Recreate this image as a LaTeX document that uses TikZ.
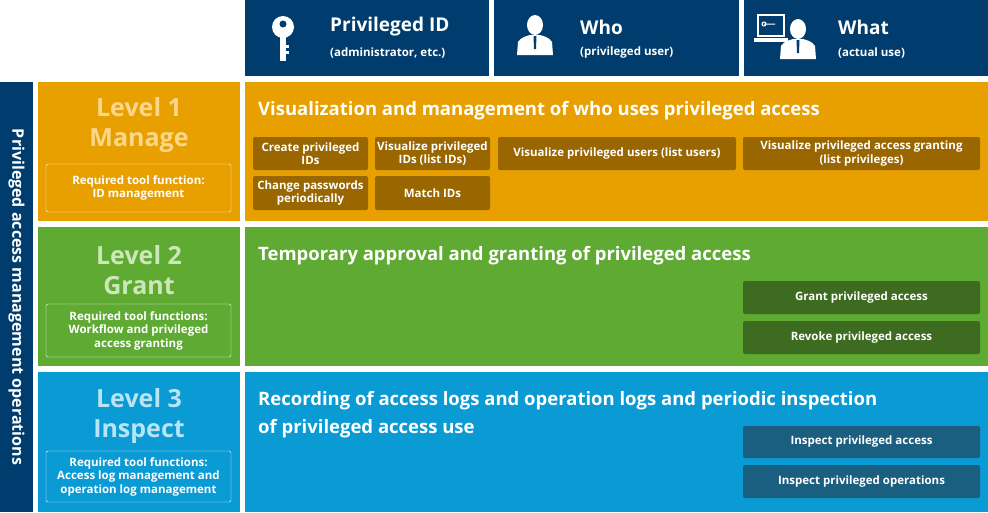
\documentclass[tikz,border=0pt]{standalone}
\usepackage{fontspec}
\setmainfont{Open Sans}
\begin{document}
\begin{tikzpicture}[x=1pt,y=-1pt,
 every node/.style={font=\bfseries,text=white,inner sep=0pt,align=center},
 sub/.style={rounded corners=2pt,font=\bfseries\fontsize{11.5}{13.5}\selectfont},
 req/.style={draw=white,rounded corners=2pt,font=\bfseries\fontsize{11.5}{13.5}\selectfont},
 lvl/.style={font=\bfseries\fontsize{25}{30}\selectfont},
 head/.style={anchor=west,align=left,font=\bfseries\fontsize{18.5}{28}\selectfont}]
\definecolor{hblue}{HTML}{003D6E}
\definecolor{org}{HTML}{E8A000}\definecolor{orgd}{HTML}{996600}\definecolor{orgl}{HTML}{FAD78A}
\definecolor{grn}{HTML}{5FAA32}\definecolor{grnd}{HTML}{3D6B1F}\definecolor{grnl}{HTML}{CDE8B8}
\definecolor{blu}{HTML}{0A9AD4}\definecolor{blud}{HTML}{1A5E80}\definecolor{blul}{HTML}{B8E4F6}
\useasboundingbox[fill=white] (0,0) rectangle (988,512);
% headers
\fill[hblue] (245,0) rectangle (489,76);
\fill[hblue] (494,0) rectangle (739,76);
\fill[hblue] (744,0) rectangle (988,76);
\node[anchor=west,font=\bfseries\fontsize{19}{22}\selectfont] (h1) at (330,27) {Privileged ID};
\node[anchor=west,font=\bfseries\fontsize{11.5}{13}\selectfont] (h1s) at (330,53) {(administrator, etc.)};
\node[anchor=west,font=\bfseries\fontsize{19}{22}\selectfont] (h2) at (580,27) {Who};
\node[anchor=west,font=\bfseries\fontsize{11.5}{13}\selectfont] (h2s) at (580,53) {(privileged user)};
\node[anchor=west,font=\bfseries\fontsize{19}{22}\selectfont] (h3) at (838,27) {What};
\node[anchor=west,font=\bfseries\fontsize{11.5}{13}\selectfont] (h3s) at (838,53) {(actual use)};
% key icon
\fill[white] (283,27) circle (11);
\fill[hblue] (283,24) circle (3.5);
\fill[white] (280,35) rectangle (286,61);
\fill[white] (286,45) rectangle (289,48);\fill[white] (286,51) rectangle (289,54);
% person icon
\newcommand\persico[2]{%
\fill[white] (#1,#2) ellipse (8 and 10);
\fill[white] (#1-18,#2+30) -- (#1-17,#2+17) .. controls (#1-14,#2+12) and (#1-8,#2+11) .. (#1-5,#2+10) -- (#1+5,#2+10) .. controls (#1+8,#2+11) and (#1+14,#2+12) .. (#1+17,#2+17) -- (#1+18,#2+30) -- cycle;
\fill[hblue] (#1-1.5,#2+11) -- (#1+1.5,#2+11) -- (#1+1,#2+24) -- (#1-1,#2+24) -- cycle;}
\persico{535}{25}
\persico{798}{29}
% laptop
\fill[hblue] (756,13) rectangle (786,38);
\draw[white,line width=1.5] (758,15) rectangle (784,36);
\fill[white] (754,38) rectangle (788,42);
\draw[white,line width=1] (764,24) circle (2) -- (775,24);
% left band
\fill[hblue] (0,82) rectangle (33,512);
\node[rotate=-90,font=\bfseries\fontsize{16}{18}\selectfont] (band) at (16.5,297) {Privileged access management operations};
% level rows
\foreach \ya/\yb/\c in {82/221/org,227/366/grn,372/512/blu}{
 \fill[\c] (38,\ya) rectangle (240,\yb);
 \fill[\c] (245,\ya) rectangle (988,\yb);}
\node[lvl,text=orgl] (l1) at (139,125) {Level 1\\Manage};
\node[lvl,text=grnl] (l2) at (139,270) {Level 2\\Grant};
\node[lvl,text=blul] (l3) at (139,416) {Level 3\\Inspect};
\node[req,minimum width=185,minimum height=48] (r1) at (138.5,188) {Required tool function:\\ID management};
\node[req,minimum width=185,minimum height=53] (r2) at (138.5,330.5) {Required tool functions:\\Workflow and privileged\\access granting};
\node[req,minimum width=185,minimum height=51] (r3) at (138.5,476.5) {Required tool functions:\\Access log management and\\operation log management};
\node[head] (t1) at (258,111) {Visualization and management of who uses privileged access};
\node[head] (t2) at (258,256) {Temporary approval and granting of privileged access};
\node[head] (t3) at (258,415) {Recording of access logs and operation logs and periodic inspection\\of privileged access use};
% sub boxes
\node[sub,fill=orgd,minimum width=115,minimum height=33] (s1) at (310.5,153.5) {Create privileged\\IDs};
\node[sub,fill=orgd,minimum width=115,minimum height=33] (s2) at (432.5,153.5) {Visualize privileged\\IDs (list IDs)};
\node[sub,fill=orgd,minimum width=238,minimum height=33] (s3) at (617,153.5) {Visualize privileged users (list users)};
\node[sub,fill=orgd,minimum width=237,minimum height=33] (s4) at (861.5,153.5) {Visualize privileged access granting\\(list privileges)};
\node[sub,fill=orgd,minimum width=115,minimum height=34] (s5) at (310.5,193) {Change passwords\\periodically};
\node[sub,fill=orgd,minimum width=115,minimum height=34] (s6) at (432.5,193) {Match IDs};
\node[sub,fill=grnd,minimum width=237,minimum height=33] (g1) at (861.5,297.5) {Grant privileged access};
\node[sub,fill=grnd,minimum width=237,minimum height=33] (g2) at (861.5,337.5) {Revoke privileged access};
\node[sub,fill=blud,minimum width=237,minimum height=32] (b1) at (861.5,442) {Inspect privileged access};
\node[sub,fill=blud,minimum width=237,minimum height=33] (b2) at (861.5,481.5) {Inspect privileged operations};
\end{tikzpicture}
\end{document}
